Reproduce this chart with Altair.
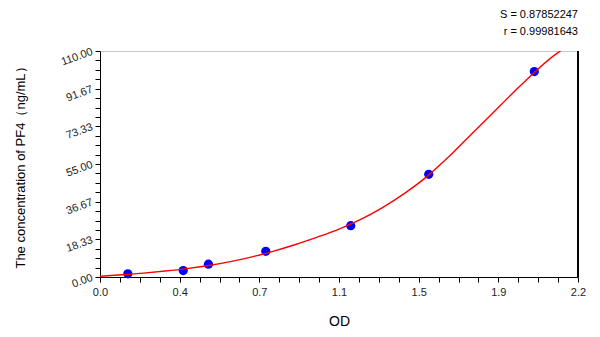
import altair as alt
import pandas as pd

# Standard points (OD vs concentration)
point_od = [0.128, 0.383, 0.499, 0.763, 1.154, 1.513, 1.999]
point_conc = [1.5625, 3.125, 6.25, 12.5, 25.0, 50.0, 100.0]

# Fitted curve
curve_od = [0.0, 0.1, 0.2, 0.3, 0.4, 0.5, 0.6, 0.7, 0.8, 0.9, 1.0, 1.1,
            1.2, 1.3, 1.4, 1.5, 1.6, 1.7, 1.8, 1.9, 2.0, 2.1, 2.12]
curve_conc = [0.4, 1.1, 1.9, 2.9, 4.1, 5.6, 7.5, 9.8, 12.6, 15.8, 19.4, 23.3,
              28.0, 33.8, 40.6, 48.5, 58.0, 68.5, 79.0, 89.5, 99.7, 108.6, 110.0]

x_tick_labels = ["0.0", "0.4", "0.7", "1.1", "1.5", "1.9", "2.2"]
y_tick_labels = ["0.00", "18.33", "36.67", "55.00", "73.33", "91.67", "110.00"]
x_max = 2.2
y_max = 110.0
stats_lines = ["S = 0.87852247", "r = 0.99981643"]
x_title = "OD"
y_title = "The concentration of PF4\uff08ng/mL\uff09"

n_steps = 24  # 6 major intervals x 4 minor
x_ticks = [i * x_max / n_steps for i in range(n_steps + 1)]
y_ticks = [i * y_max / n_steps for i in range(n_steps + 1)]


def js_list(items):
    return "[" + ",".join("'" + s + "'" for s in items) + "]"


x_label_expr = (
    f"round(datum.value*{n_steps}/{x_max}) % 4 == 0 ? "
    f"{js_list(x_tick_labels)}[round(datum.value*{n_steps}/{x_max})/4] : ''"
)
y_label_expr = (
    f"round(datum.value*{n_steps}/{y_max}) % 4 == 0 ? "
    f"{js_list(y_tick_labels)}[round(datum.value*{n_steps}/{y_max})/4] : ''"
)

points = pd.DataFrame({"od": point_od, "conc": point_conc})
curve = pd.DataFrame({"od": curve_od, "conc": curve_conc})

FONT = "Liberation Sans"

x_scale = alt.Scale(domain=[0, x_max], nice=False, zero=False)
y_scale = alt.Scale(domain=[0, y_max], nice=False, zero=False)

x_axis = alt.Axis(
    values=x_ticks, labelExpr=x_label_expr, grid=False,
    domainColor="black", tickColor="black", tickSize=5,
    labelFont=FONT, labelFontSize=11, labelColor="#222222", labelPadding=4,
    labelOverlap=False, labelFlush=False,
    title=x_title, titleFont=FONT, titleFontSize=14, titleFontWeight="normal",
    titleColor="black", titlePadding=17,
)
y_axis = alt.Axis(
    values=y_ticks, labelExpr=y_label_expr, grid=False,
    domainColor="black", tickColor="black", tickSize=5,
    labelFont=FONT, labelFontSize=11, labelColor="#222222", labelPadding=3,
    labelAngle=340, labelAlign="right", labelBaseline="middle",
    labelOverlap=False, labelFlush=False, labelBound=False,
    title=y_title, titleFont=FONT, titleFontSize=13, titleFontWeight="normal",
    titleColor="black", titleAngle=270, titleX=-80, titleY=113,
    titleAlign="center", titleBaseline="middle",
)

X = alt.X("od:Q", scale=x_scale, axis=x_axis)
Y = alt.Y("conc:Q", scale=y_scale, axis=y_axis)

pts = alt.Chart(points).mark_circle(color="#0000FF", opacity=1, size=85).encode(
    x=X, y=Y,
)

line = alt.Chart(curve).mark_line(
    color="#FF0000", strokeWidth=1.4, interpolate="monotone", clip=True
).encode(x=X, y=Y)

right_border = alt.Chart(points).mark_rule(color="black", strokeWidth=1).encode(
    x=alt.XDatum(x_max, type="quantitative", scale=x_scale, axis=x_axis),
    y=alt.YDatum(0, type="quantitative", scale=y_scale, axis=y_axis),
    y2=alt.Y2Datum(y_max),
)

chart = (
    alt.layer(pts, line, right_border)
    .properties(
        width=478,
        height=226,
        title=alt.TitleParams(
            text=stats_lines, anchor="end", frame="group", fontSize=11,
            font=FONT, fontWeight="normal", color="black", lineHeight=17,
            offset=8,
        ),
        autosize=alt.AutoSizeParams(type="none"),
        padding={"left": 100, "top": 51, "right": 22, "bottom": 60},
        background="white",
    )
    .configure_view(stroke="#c8c8c8", strokeWidth=1)
    .configure_axis(labelOverlap=False)
)

chart.save("out.html", embed_options={"renderer": "svg", "actions": False})
